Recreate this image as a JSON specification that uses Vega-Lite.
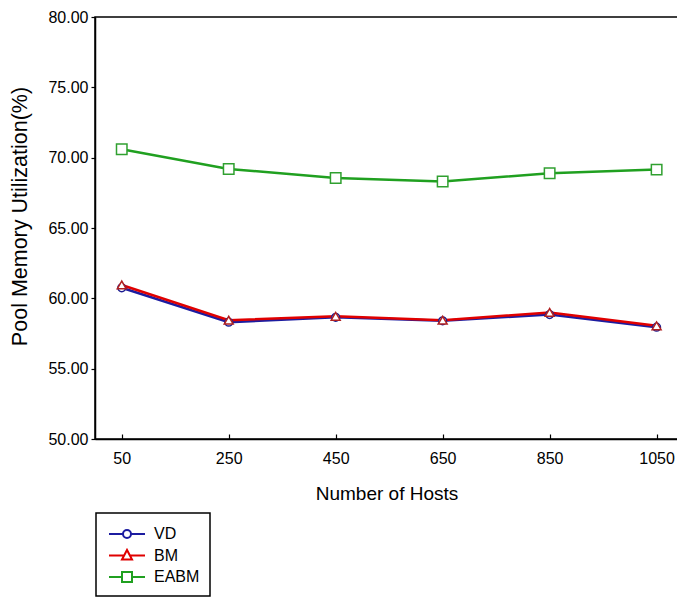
{
  "$schema": "https://vega.github.io/schema/vega-lite/v6.json",
  "width": 583,
  "height": 422,
  "autosize": {"type": "none"},
  "padding": {"left": 95, "top": 17, "right": 0, "bottom": 159},
  "background": "white",
  "config": {
    "font": "Liberation Sans",
    "view": {"stroke": "black", "strokeWidth": 1.5},
    "axis": {
      "grid": false,
      "domainColor": "black",
      "domainWidth": 1.5,
      "tickColor": "black",
      "tickWidth": 1.2,
      "labelColor": "black",
      "labelFontSize": 16,
      "titleColor": "black",
      "titleFontWeight": "normal",
      "titleFontSize": 19
    }
  },
  "data": {
    "values": [
      {"hosts": 50, "series": "VD", "util": 60.75},
      {"hosts": 250, "series": "VD", "util": 58.3},
      {"hosts": 450, "series": "VD", "util": 58.65},
      {"hosts": 650, "series": "VD", "util": 58.4},
      {"hosts": 850, "series": "VD", "util": 58.85},
      {"hosts": 1050, "series": "VD", "util": 57.95},
      {"hosts": 50, "series": "BM", "util": 60.95},
      {"hosts": 250, "series": "BM", "util": 58.45},
      {"hosts": 450, "series": "BM", "util": 58.72},
      {"hosts": 650, "series": "BM", "util": 58.45},
      {"hosts": 850, "series": "BM", "util": 59.0},
      {"hosts": 1050, "series": "BM", "util": 58.05},
      {"hosts": 50, "series": "EABM", "util": 70.6},
      {"hosts": 250, "series": "EABM", "util": 69.2},
      {"hosts": 450, "series": "EABM", "util": 68.55},
      {"hosts": 650, "series": "EABM", "util": 68.3},
      {"hosts": 850, "series": "EABM", "util": 68.9},
      {"hosts": 1050, "series": "EABM", "util": 69.15}
    ]
  },
  "encoding": {
    "x": {
      "field": "hosts",
      "type": "quantitative",
      "scale": {"domain": [0, 1090], "nice": false, "zero": false},
      "axis": {
        "values": [50, 250, 450, 650, 850, 1050],
        "format": "d",
        "tickSize": -5,
        "labelPadding": 16,
        "title": "Number of Hosts",
        "titleY": 54,
        "titleBaseline": "middle"
      }
    },
    "y": {
      "field": "util",
      "type": "quantitative",
      "scale": {"domain": [50, 80], "nice": false, "zero": false},
      "axis": {
        "values": [50, 55, 60, 65, 70, 75, 80],
        "format": ".2f",
        "tickSize": 4,
        "labelPadding": 3,
        "title": "Pool Memory Utilization(%)",
        "titleFontSize": 21.5,
        "titleX": -75,
        "titleY": 199,
        "titleAlign": "center",
        "titleBaseline": "middle"
      }
    }
  },
  "layer": [
    {
      "mark": {"type": "line", "strokeWidth": 2.5},
      "encoding": {
        "color": {
          "field": "series",
          "type": "nominal",
          "scale": {"domain": ["VD", "BM", "EABM"], "range": ["#1c1ca0", "#e00000", "#20a020"]},
          "legend": {
            "orient": "none",
            "legendX": 1,
            "legendY": 496,
            "title": null,
            "strokeColor": "black",
            "fillColor": "white",
            "padding": 10,
            "rowPadding": 2.5,
            "labelFontSize": 16,
            "labelColor": "black",
            "labelOffset": 26,
            "symbolSize": 400,
            "symbolStrokeWidth": 2,
            "symbolFillColor": "white",
            "encode": {
              "legend": {
                "update": {"strokeWidth": {"value": 1.5}}
              },
              "symbols": {
                "update": {
                  "shape": {
                    "signal": "datum.value === 'VD' ? 'M-0.8,0H0.6M1.4,0A0.4,0.4 0 1,1 0.6,0A0.4,0.4 0 1,1 1.4,0M1.4,0H2.8' : datum.value === 'BM' ? 'M-0.8,0H0.71M0.5,0.4L1,-0.55L1.5,0.4ZM1.29,0H2.8' : 'M-0.8,0H0.5M0.5,-0.5H1.5V0.5H0.5ZM1.5,0H2.8'"
                  }
                }
              }
            }
          }
        }
      }
    },
    {
      "transform": [{"filter": "datum.series === 'VD'"}],
      "mark": {"type": "point", "shape": "circle", "size": 60, "filled": true, "fill": "white", "stroke": "#1c1c90", "strokeWidth": 1.5, "opacity": 1}
    },
    {
      "transform": [{"filter": "datum.series === 'BM'"}],
      "mark": {"type": "point", "shape": "triangle-up", "size": 80, "filled": true, "fill": "white", "stroke": "#b02020", "strokeWidth": 1.5, "opacity": 1}
    },
    {
      "transform": [{"filter": "datum.series === 'EABM'"}],
      "mark": {"type": "point", "shape": "square", "size": 110, "filled": true, "fill": "white", "stroke": "#30a030", "strokeWidth": 1.5, "opacity": 1}
    }
  ]
}
